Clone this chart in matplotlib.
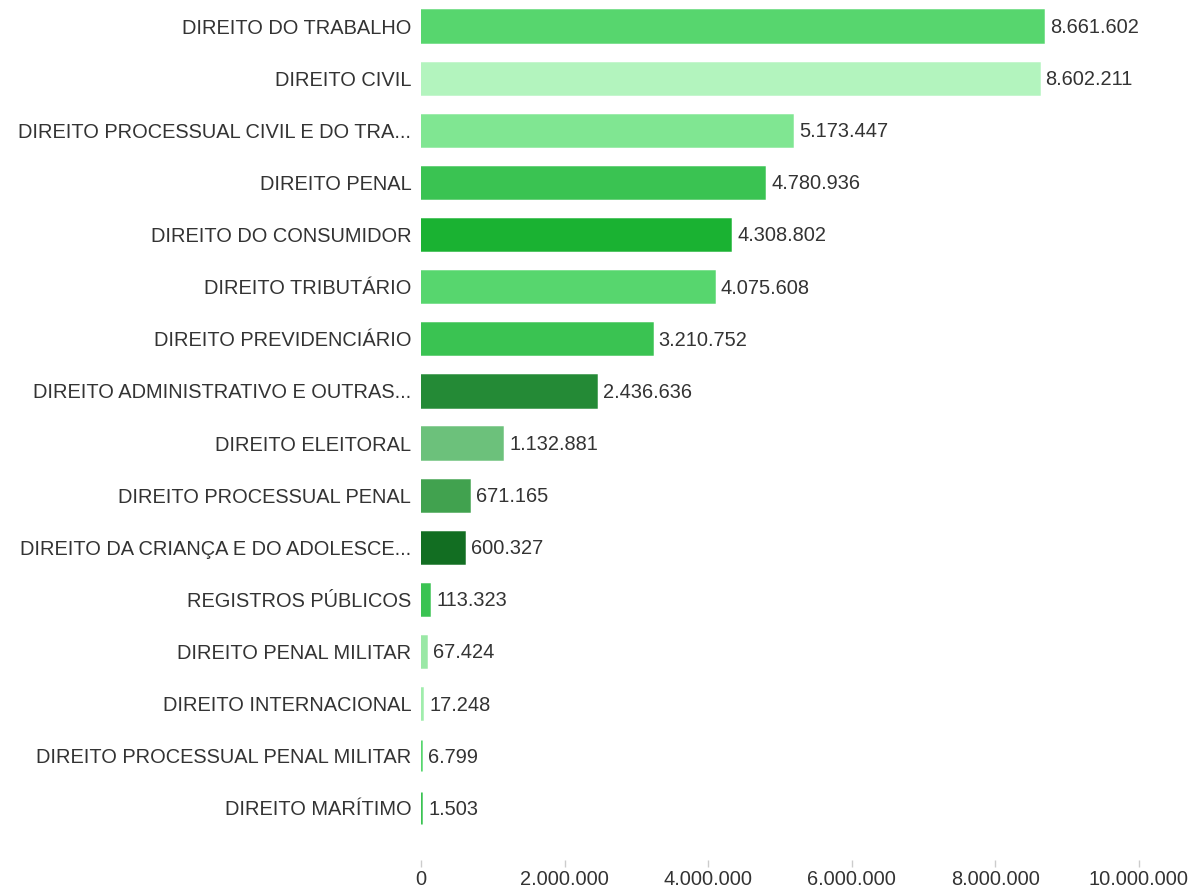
import matplotlib
matplotlib.use('Agg')
import matplotlib.pyplot as plt
from matplotlib.ticker import FuncFormatter

# data
categories = [
    'DIREITO DO TRABALHO',
    'DIREITO CIVIL',
    'DIREITO PROCESSUAL CIVIL E DO TRA...',
    'DIREITO PENAL',
    'DIREITO DO CONSUMIDOR',
    'DIREITO TRIBUTÁRIO',
    'DIREITO PREVIDENCIÁRIO',
    'DIREITO ADMINISTRATIVO E OUTRAS...',
    'DIREITO ELEITORAL',
    'DIREITO PROCESSUAL PENAL',
    'DIREITO DA CRIANÇA E DO ADOLESCE...',
    'REGISTROS PÚBLICOS',
    'DIREITO PENAL MILITAR',
    'DIREITO INTERNACIONAL',
    'DIREITO PROCESSUAL PENAL MILITAR',
    'DIREITO MARÍTIMO',
]
values = [8661602, 8602211, 5173447, 4780936, 4308802, 4075608, 3210752,
          2436636, 1132881, 671165, 600327, 113323, 67424, 17248, 6799, 1503]
bar_colors = ['#57d66e', '#b3f4be', '#80e692', '#3ac352', '#1ab232', '#57d66e',
              '#3ac352', '#248a36', '#6cc17b', '#41a24f', '#126e22', '#3ac352',
              '#9ae8a6', '#a0edac', '#57d66e', '#3ac352']
x_ticks = [0, 2000000, 4000000, 6000000, 8000000, 10000000]


def br_fmt(v, pos=None):
    return f'{int(v):,}'.replace(',', '.')


plt.rcParams['font.family'] = ['Liberation Sans', 'DejaVu Sans']
text_color = '#333333'
fs = 14.4

fig = plt.figure(figsize=(11.98, 8.90), dpi=100)
ax = fig.add_axes([421 / 1198, 1 - 860 / 890, (1139 - 421) / 1198, 860 / 890])

ypos = list(range(len(categories)))
# edge in the bar colour keeps the tiny bars visible, as in the reference
ax.barh(ypos, values, height=0.6, color=bar_colors, edgecolor=bar_colors,
        linewidth=1.8)

for y, v in zip(ypos, values):
    ax.annotate(br_fmt(v), (v, y), xytext=(5, -1), textcoords='offset points',
                ha='left', va='center', fontsize=fs, color=text_color)

ax.set_xlim(0, 10000000)
ax.set_ylim(16.0, -0.5)
ax.set_yticks(ypos)
ax.set_yticklabels(categories, fontsize=fs, color=text_color)
ax.set_xticks(x_ticks)
ax.xaxis.set_major_formatter(FuncFormatter(br_fmt))
ax.tick_params(axis='x', labelsize=fs, labelcolor=text_color, color='#cccccc',
               length=5, width=1, pad=2)
ax.tick_params(axis='y', length=0, pad=7)
for s in ax.spines.values():
    s.set_visible(False)

fig.savefig('out.png', dpi=100)
